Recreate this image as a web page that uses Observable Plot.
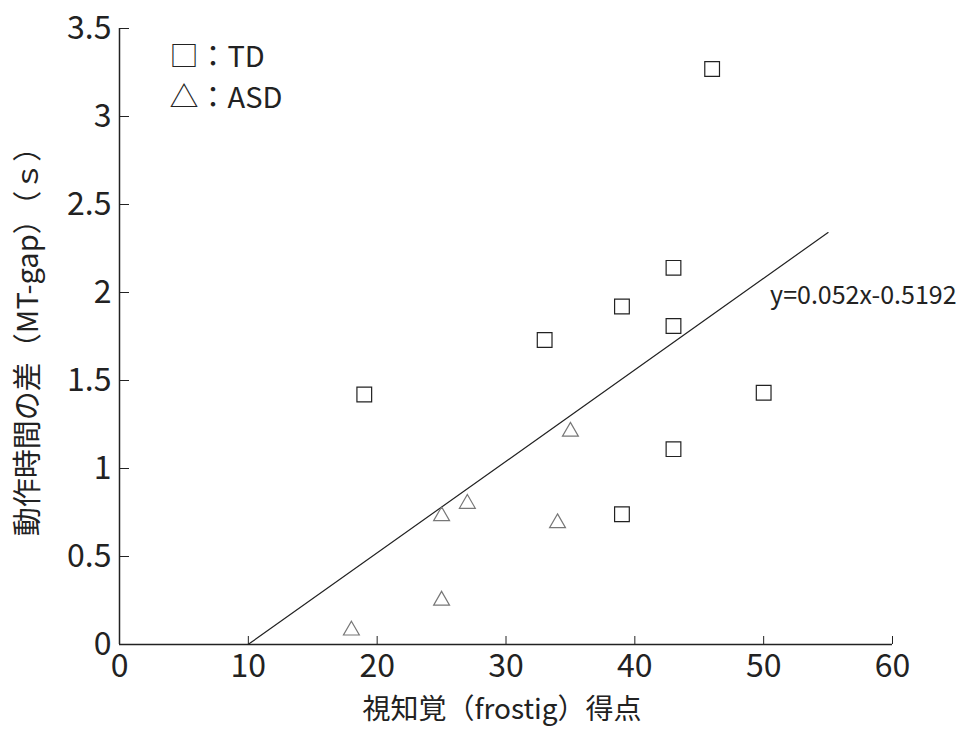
<!DOCTYPE html>
<html><head><meta charset="utf-8">
<script src="https://cdn.jsdelivr.net/npm/d3@7"></script>
<script src="https://cdn.jsdelivr.net/npm/@observablehq/plot@0.6"></script>
<style>body{margin:0;background:#fff}</style>
</head><body><div id="chart"></div>
<script>
const tdX = [19, 33, 39, 43, 43, 46, 50, 43, 39];
const tdY = [1.42, 1.73, 1.92, 2.14, 1.81, 3.27, 1.43, 1.11, 0.74];
const asdX = [18, 25, 25, 27, 34, 35];
const asdY = [0.08, 0.73, 0.25, 0.80, 0.69, 1.21];
const fitX = [10, 55];
const fitY = [0.0008, 2.3408];
const xTicks = [0, 10, 20, 30, 40, 50, 60];
const yTicks = [0, 0.5, 1, 1.5, 2, 2.5, 3, 3.5];
const legendLabels = ["□：TD", "△：ASD"];
const equationLabel = "y=0.052x-0.5192";
const equationPos = {x: 50.5, y: 1.98};
const xLabel = "視知覚（frostig）得点";
const yLabel = "動作時間の差（MT-gap）（ｓ）";

const td = tdX.map((x, i) => ({x, y: tdY[i]}));
const asd = asdX.map((x, i) => ({x, y: asdY[i]}));
const fit = fitX.map((x, i) => ({x, y: fitY[i]}));

const chart = Plot.plot({
  width: 966,
  height: 739,
  marginLeft: 119,
  marginRight: 74,
  marginTop: 28,
  marginBottom: 95,
  style: {fontFamily: "'Noto Sans CJK JP', sans-serif", background: "#fff", color: "#222"},
  x: {domain: [0, 60]},
  y: {domain: [0, 3.5]},
  marks: [
    Plot.ruleX([0], {stroke: "#222", strokeWidth: 1.5}),
    Plot.ruleY([0], {stroke: "#222", strokeWidth: 1.5}),
    Plot.axisX(xTicks, {tickSize: -8, text: null, label: null, stroke: "#222"}),
    Plot.axisY(yTicks, {tickSize: -10, text: null, label: null, stroke: "#222"}),
    Plot.axisX(xTicks, {tickSize: 0, tickPadding: 10, fontSize: 32, label: null, fill: "#222"}),
    Plot.axisY(yTicks, {tickSize: 0, tickPadding: 8, fontSize: 32, label: null, tickFormat: d => String(d), fill: "#222"}),
    Plot.line(fit, {x: "x", y: "y", stroke: "#222", strokeWidth: 1.2}),
    Plot.dot(td, {x: "x", y: "y", symbol: "square", r: 8.3, stroke: "#222", strokeWidth: 1.2, fill: "none"}),
    Plot.dot(asd, {x: "x", y: "y", symbol: "triangle", r: 5.9, stroke: "#777", strokeWidth: 1.2, fill: "none"}),
    Plot.text([equationLabel], {x: equationPos.x, y: equationPos.y, text: d => d, textAnchor: "start", fontSize: 25, fill: "#222"}),
    Plot.text([legendLabels.join("\n")], {frameAnchor: "top-left", text: d => d, textAnchor: "start", lineAnchor: "top", lineHeight: 1.4, dx: 50, dy: 10, fontSize: 29, fill: "#222"}),
    Plot.text([xLabel], {frameAnchor: "bottom", text: d => d, dy: 74, dx: -4, fontSize: 28, fill: "#222"}),
    Plot.text([yLabel], {frameAnchor: "left", text: d => d, textAnchor: "middle", rotate: -90, dx: -91, dy: -2, fontSize: 29, fill: "#222"})
  ]
});
document.getElementById("chart").appendChild(chart);
</script>
</body></html>
